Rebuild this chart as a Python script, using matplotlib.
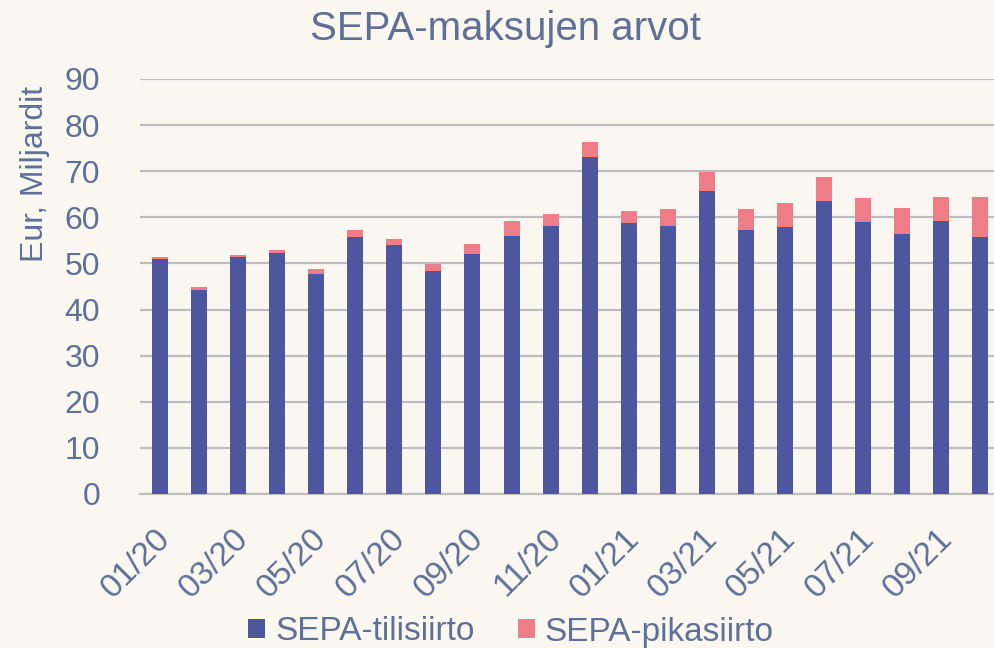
# SEPA-maksujen arvot - stacked monthly bars

import numpy as np
import matplotlib.pyplot as plt
from matplotlib.transforms import ScaledTranslation

plt.rcParams['font.family'] = ['Liberation Sans', 'DejaVu Sans']

# Data (EUR billions)
months = ["01/20", "02/20", "03/20", "04/20", "05/20", "06/20", "07/20", "08/20",
          "09/20", "10/20", "11/20", "12/20", "01/21", "02/21", "03/21", "04/21",
          "05/21", "06/21", "07/21", "08/21", "09/21", "10/21"]
tilisiirto = [50.9, 44.3, 51.5, 52.2, 47.7, 55.8, 53.9, 48.4, 52.0, 56.0, 58.2,
              73.0, 58.8, 58.2, 65.8, 57.2, 57.8, 63.5, 58.9, 56.3, 59.1, 55.7]
pikasiirto = [0.5, 0.6, 0.3, 0.7, 1.1, 1.5, 1.5, 1.5, 2.2, 3.1, 2.6,
              3.3, 2.5, 3.5, 4.0, 4.5, 5.3, 5.2, 5.3, 5.7, 5.2, 8.6]

bg = "#FAF6F0"
text_col = "#5F6F96"
blue = "#4E56A0"
pink = "#EE7D88"

fig = plt.figure(figsize=(9.95, 6.48), dpi=100, facecolor=bg)
ax = fig.add_axes([0.141, 0.2377, 0.864, 0.6404], facecolor=bg)

x = np.arange(len(months))
ax.bar(x, tilisiirto, width=0.41, color=blue, label="SEPA-tilisiirto", zorder=3)
ax.bar(x, pikasiirto, width=0.41, bottom=tilisiirto, color=pink,
       label="SEPA-pikasiirto", zorder=3)

ax.set_xlim(-0.5, 21.5)
ax.set_ylim(0, 90)
ax.set_yticks(range(0, 91, 10))
ax.yaxis.grid(True, color="#BDBDBD", linewidth=1.6, zorder=0)
for side in ["top", "right", "left"]:
    ax.spines[side].set_visible(False)
ax.spines["bottom"].set_color("#BDBDBD")
ax.spines["bottom"].set_linewidth(1.6)
ax.tick_params(length=0, labelsize=23, colors=text_col)
ax.tick_params(axis="y", pad=29)
ax.tick_params(axis="x", pad=29, labelsize=24)

ax.set_xticks(x[::2])
ax.set_xticklabels(months[::2], rotation=45, ha="right", va="center",
                   rotation_mode="anchor")
# nudge the rotated labels a little to the right
shift = ScaledTranslation(6 / 100, 0, fig.dpi_scale_trans)
for lbl in ax.get_xticklabels():
    lbl.set_transform(lbl.get_transform() + shift)

ax.set_ylabel("Eur, Miljardit", fontsize=23, color=text_col)
ax.yaxis.set_label_coords(-0.105, 0.77)
fig.suptitle("SEPA-maksujen arvot", fontsize=29, color=text_col,
             x=0.508, y=0.955, va="center")

fig.legend(loc="center", ncol=2, frameon=False, fontsize=24,
           labelcolor=text_col, handlelength=0.5, handleheight=0.5,
           handletextpad=0.3, columnspacing=1.3,
           bbox_to_anchor=(511 / 995, 16 / 648))

fig.savefig("out.png", dpi=100, facecolor=bg)
